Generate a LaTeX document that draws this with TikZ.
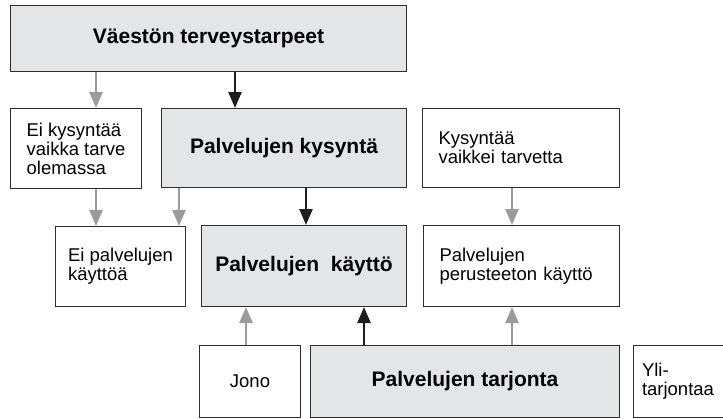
\documentclass[tikz,border=0pt]{standalone}
\usepackage{fontspec}
\setmainfont{Liberation Sans}
\usetikzlibrary{arrows.meta}
\definecolor{boxfill}{RGB}{228,229,231}
\definecolor{boxline}{RGB}{45,45,45}
\definecolor{arrgray}{RGB}{155,155,155}
\definecolor{arrblack}{RGB}{30,30,30}
\tikzset{
  box/.style={draw=boxline, line width=1pt, anchor=north west, inner sep=0pt},
  mainbox/.style={box, fill=boxfill, align=center, font=\fontsize{21}{24}\selectfont\bfseries},
  sidebox/.style={box, fill=white, align=left, font=\fontsize{18.5}{19}\selectfont},
  grayarr/.style={draw=arrgray, line width=2.6pt, -{Triangle[length=16pt,width=13pt]}},
  blackarr/.style={draw=arrblack, line width=2.4pt, -{Triangle[length=16pt,width=13pt]}}
}
\begin{document}
\begin{tikzpicture}[x=1pt, y=-1pt]
    \useasboundingbox (0,0) rectangle (723,418);

                    \node[mainbox, minimum width=396, minimum height=66] (terve) at (10,5) {Väestön terveystarpeet};
                    \node[sidebox, minimum width=131, minimum height=80] (eikys) at (10,108) {Ei kysyntää\\vaikka tarve\\olemassa};
                    \node[mainbox, minimum width=245, minimum height=79] (kysynta) at (161,108) {Palvelujen kysyntä};
                    \node[sidebox, minimum width=197, minimum height=79, text width=165] (kysyvaik) at (422,108) {Kysyntää\\vaikkei tarvetta};
                    \node[sidebox, minimum width=130, minimum height=80] (eikaytto) at (55,226) {Ei palvelujen\\käyttöä};
                    \node[mainbox, minimum width=205, minimum height=81] (kaytto) at (201,225) {Palvelujen\ \ käyttö};
                    \node[sidebox, minimum width=196, minimum height=81, text width=164] (perust) at (423,225) {Palvelujen\\perusteeton käyttö};
                    \node[sidebox, minimum width=101, minimum height=72, align=center] (jono) at (199,345) {Jono};
                    \node[mainbox, minimum width=309, minimum height=72] (tarjonta) at (310,345) {Palvelujen tarjonta};
                    \node[sidebox, minimum width=90, minimum height=72] (yli) at (632.5,345) {Yli-\\tarjontaa};

                    \coordinate (xa) at (96,0);
                    \coordinate (xb) at (235,0);
                    \coordinate (xc) at (179,0);
                    \coordinate (xd) at (306,0);
                    \coordinate (xe) at (512,0);
                    \coordinate (xf) at (246,0);
                    \coordinate (xg) at (364,0);

                    \draw [grayarr] (terve.south -| xa) -- (eikys.north -| xa);
                    \draw [blackarr] (terve.south -| xb) -- (kysynta.north -| xb);
                    \draw [grayarr] (eikys.south -| xa) -- (eikaytto.north -| xa);
                    \draw [grayarr] (kysynta.south -| xc) -- (eikaytto.north -| xc);
                    \draw [blackarr] (kysynta.south -| xd) -- (kaytto.north -| xd);
                    \draw [grayarr] (kysyvaik.south -| xe) -- (perust.north -| xe);
                    \draw [grayarr] (jono.north -| xf) -- (kaytto.south -| xf);
                    \draw [blackarr] (tarjonta.north -| xg) -- (kaytto.south -| xg);
                    \draw [grayarr] (tarjonta.north -| xe) -- (perust.south -| xe);

                \end{tikzpicture}
\end{document}
